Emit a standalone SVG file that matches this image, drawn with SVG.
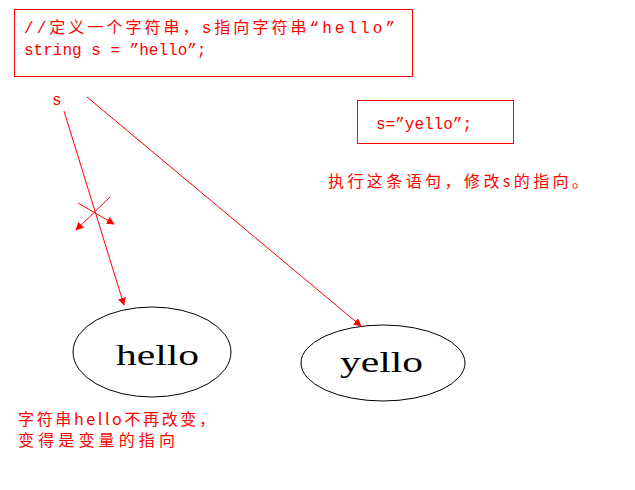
<svg xmlns="http://www.w3.org/2000/svg" width="635" height="490" viewBox="0 0 635 490">
<defs>
<marker id="a" viewBox="0 0 10 10" refX="9" refY="5" markerWidth="8" markerHeight="8" markerUnits="userSpaceOnUse" orient="auto"><path d="M0,0 L10,5 L0,10 z" fill="#f00"/></marker>
<style>
.r{fill:#fff;stroke:#f00;stroke-width:1}
.t{font-family:"Liberation Mono","Noto Sans CJK SC",monospace;font-size:16px;fill:#f00}
.c{font-family:"Noto Sans CJK SC",sans-serif;font-size:16px;fill:#f00}
.e{fill:#fff;stroke:#000;stroke-width:1}
.b{font-family:"Liberation Serif",serif;font-size:30px;fill:#000}
.l{stroke:#f00;stroke-width:1;fill:none;marker-end:url(#a)}
</style>
</defs>
<rect width="635" height="490" fill="#fff"/>
<g id="code"><rect class="r" x="14.5" y="9.5" width="398" height="67"/>
<text class="t" x="24" y="33" textLength="371" lengthAdjust="spacing">//定义一个字符串，s指向字符串“hello”</text>
<text class="t" x="24" y="55">string s = ”hello”;</text></g>
<g id="s"><text class="t" x="52" y="105" font-size="14">s</text></g>
<g id="assign"><rect class="r" x="357.5" y="100.5" width="156" height="43"/>
<text class="t" x="376" y="129">s=”yello”;</text></g>
<g id="note1"><text class="c" x="328" y="187" font-size="17" textLength="260" lengthAdjust="spacing">执行这条语句，修改s的指向。</text></g>
<g id="hello"><ellipse class="e" cx="152" cy="352" rx="79" ry="45"/><text class="b" x="116" y="365" textLength="83" lengthAdjust="spacingAndGlyphs">hello</text></g>
<g id="yello"><ellipse class="e" cx="383" cy="363" rx="82" ry="38"/><text class="b" x="340" y="372" textLength="83" lengthAdjust="spacingAndGlyphs">yello</text></g>
<g id="note2"><text class="c" x="18" y="425" textLength="197" lengthAdjust="spacing">字符串hello不再改变，</text><text class="c" x="18" y="446" textLength="157" lengthAdjust="spacing">变得是变量的指向</text></g>
<g id="connectors">
<line class="l" x1="64" y1="111" x2="124" y2="305"/>
<line class="l" x1="87" y1="97" x2="361" y2="326"/>
<line class="l" x1="110" y1="197" x2="76" y2="230"/>
<line class="l" x1="78" y1="203" x2="114" y2="224"/>
</g>
</svg>
